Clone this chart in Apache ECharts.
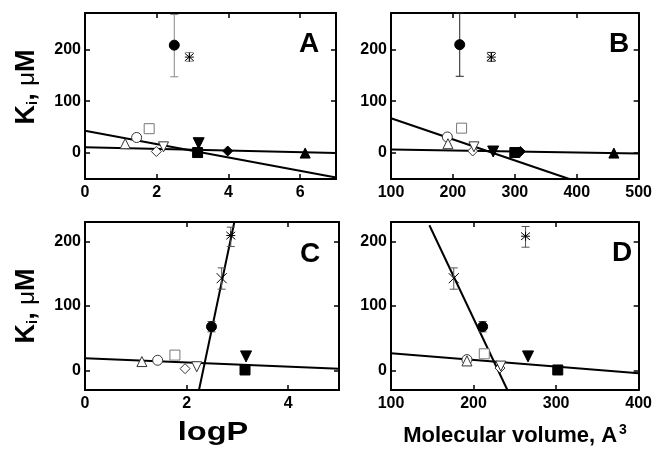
<!DOCTYPE html>
<html>
<head>
<meta charset="utf-8">
<script src="https://cdn.jsdelivr.net/npm/echarts@6/dist/echarts.min.js"></script>
<style>
html,body{margin:0;padding:0;background:#fff;}
#chart{width:655px;height:451px;}
</style>
</head>
<body>
<div id="chart"></div>
<script>
// ---------------- DATA ----------------
const compounds = ['filledCircle','asterisk','cross','openSquare','openCircle','openTriangle','openDiamond','openDownTriangle','filledDownTriangle','filledSquare','filledDiamond','filledTriangle'];

// Panel A: Ki vs logP
const logP_A = [2.49, 2.91, null, 1.79, 1.44, 1.12, 1.99, 2.19, 3.17, 3.14, 3.98, 6.14];
const Ki_A   = [208, 185, null, 47, 30, 18, 3, 12, 19, 1, 4, 0];
const errLo_A = [147, 177, null, null, null, null, null, null, null, null, null, null];
const errHi_A = [267, 194, null, null, null, null, null, null, null, null, null, null];
const fitA1 = [[0, 43], [7, -47]];
const fitA2 = [[0, 11], [7, 0]];

// Panel B: Ki vs molecular volume
const vol_B = [211, 262, null, 214, 191, 192, 232, 234, 265, 300, 309, 460];
const Ki_B  = [209, 185, null, 48, 31, 18, 4, 12, 3, 1, 3, 0];
const errLo_B = [148, 177, null, null, null, null, null, null, null, null, null, null];
const errHi_B = [270, 194, null, null, null, null, null, null, null, null, null, null];
const fitB1 = [[100, 67], [388, -50]];
const fitB2 = [[100, 7], [500, -1]];

// Panel C: Ki vs logP
const logP_C = [2.49, 2.87, 2.69, 1.77, 1.43, 1.12, 1.97, 2.2, 3.17, 3.15, null, null];
const Ki_C   = [68, 209, 143, 24, 16, 14, 3, 6, 22, 1, null, null];
const errLo_C = [60, 192, 126, null, null, null, null, null, null, null, null, null];
const errHi_C = [76, 222, 159, null, null, null, null, null, null, null, null, null];
const fitC1 = [[2.244, -30], [2.94, 230]];
const fitC2 = [[0, 19], [5, 3]];

// Panel D: Ki vs molecular volume
const vol_D = [211, 263, 176, 213, 192, 192, 232, 233, 266, 302, null, null];
const Ki_D  = [68, 208, 143, 26, 17, 15, 4, 7, 22, 1, null, null];
const errLo_D = [60, 191, 126, null, null, null, null, null, null, null, null, null];
const errHi_D = [76, 223, 159, null, null, null, null, null, null, null, null, null];
const fitD1 = [[146.5, 225], [241, -30]];
const fitD2 = [[100, 27], [400, -4]];

// Axis ticks
const ticksLogP_A = [0, 2, 4, 6];
const ticksVol_B = [100, 200, 300, 400, 500];
const ticksLogP_C = [0, 2, 4];
const ticksVol_D = [100, 200, 300, 400];
const ticksKi = [0, 100, 200];

// ---------------- STYLE ----------------
const FONT = '"Liberation Sans", Arial, sans-serif';
const DOWN_TRI = 'path://M0,0L10,0L5,9Z';
const STAR = 'path://M0,0L10,10M10,0L0,10M5,-1L5,11M0,5L10,5';
const CROSS = 'path://M0,0L10,10M10,0L0,10';
const markerStyle = {
  filledCircle:       {symbol:'circle',  size:10, fill:'#000', stroke:'#000'},
  asterisk:           {symbol:STAR,      size:9,  fill:'none', stroke:'#000'},
  cross:              {symbol:CROSS,     size:10, fill:'none', stroke:'#000'},
  openSquare:         {symbol:'rect',    size:10, fill:'#fff', stroke:'#777'},
  openCircle:         {symbol:'circle',  size:10, fill:'#fff', stroke:'#333'},
  openTriangle:       {symbol:'triangle',size:10, fill:'#fff', stroke:'#333'},
  openDiamond:        {symbol:'diamond', size:10, fill:'#fff', stroke:'#333'},
  openDownTriangle:   {symbol:DOWN_TRI,  size:10, fill:'#fff', stroke:'#333'},
  filledDownTriangle: {symbol:DOWN_TRI,  size:11, fill:'#000', stroke:'#000'},
  filledSquare:       {symbol:'rect',    size:10, fill:'#000', stroke:'#000'},
  filledDiamond:      {symbol:'diamond', size:10, fill:'#000', stroke:'#000'},
  filledTriangle:     {symbol:'triangle',size:10, fill:'#000', stroke:'#000'}
};

const panels = [
  {xs:logP_A, ys:Ki_A, lo:errLo_A, hi:errHi_A, fits:[fitA1, fitA2], xMin:0, xMax:7, yMin:-50, yMax:270, xTicks:ticksLogP_A,
   grid:{left:85, top:13, width:251, height:166}, errColor:'#888', letter:'A', letterPos:[309, 44]},
  {xs:vol_B, ys:Ki_B, lo:errLo_B, hi:errHi_B, fits:[fitB1, fitB2], xMin:100, xMax:500, yMin:-50, yMax:270, xTicks:ticksVol_B,
   grid:{left:391, top:13, width:251, height:166}, errColor:'#222', letter:'B', letterPos:[619, 44]},
  {xs:logP_C, ys:Ki_C, lo:errLo_C, hi:errHi_C, fits:[fitC1, fitC2], xMin:0, xMax:5, yMin:-30, yMax:230, xTicks:ticksLogP_C,
   grid:{left:85, top:222, width:254, height:168}, errColor:'#555', letter:'C', letterPos:[310, 254]},
  {xs:vol_D, ys:Ki_D, lo:errLo_D, hi:errHi_D, fits:[fitD1, fitD2], xMin:100, xMax:400, yMin:-30, yMax:230, xTicks:ticksVol_D,
   grid:{left:391, top:222, width:252, height:168}, errColor:'#555', letter:'D', letterPos:[622, 253]}
];

const grids = [], xAxes = [], yAxes = [], series = [], graphics = [];
const lineAxis = {show:true, onZero:false, lineStyle:{color:'#000', width:2}};

panels.forEach((p, g) => {
  grids.push(Object.assign({containLabel:false}, p.grid));
  const tickStyle = {show:true, inside:true, length:5, lineStyle:{color:'#000', width:1.5}};
  const labelStyle = {fontFamily:FONT, fontWeight:'bold', fontSize:16, color:'#000'};
  xAxes.push({type:'value', gridIndex:g, position:'bottom', min:p.xMin, max:p.xMax,
    axisLine:lineAxis, splitLine:{show:false},
    axisTick:Object.assign({customValues:p.xTicks}, tickStyle),
    axisLabel:Object.assign({customValues:p.xTicks, margin:6}, labelStyle)});
  xAxes.push({type:'value', gridIndex:g, position:'top', min:p.xMin, max:p.xMax,
    axisLine:lineAxis, splitLine:{show:false},
    axisTick:Object.assign({customValues:p.xTicks}, tickStyle),
    axisLabel:{show:false}});
  yAxes.push({type:'value', gridIndex:g, position:'left', min:p.yMin, max:p.yMax,
    axisLine:lineAxis, splitLine:{show:false},
    axisTick:Object.assign({customValues:ticksKi}, tickStyle),
    axisLabel:Object.assign({customValues:ticksKi, margin:4}, labelStyle)});
  yAxes.push({type:'value', gridIndex:g, position:'right', min:p.yMin, max:p.yMax,
    axisLine:lineAxis, splitLine:{show:false},
    axisTick:Object.assign({customValues:ticksKi}, tickStyle),
    axisLabel:{show:false}});

  const xi = 2 * g, yi = 2 * g;
  // fitted lines
  p.fits.forEach(f => {
    series.push({type:'line', xAxisIndex:xi, yAxisIndex:yi, data:f, showSymbol:false, symbol:'none',
      lineStyle:{color:'#000', width:2}, clip:true, z:2, silent:true, animation:false});
  });
  // error bars
  const errData = [];
  p.xs.forEach((x, i) => { if (x !== null && p.lo[i] !== null) errData.push([x, p.lo[i], p.hi[i]]); });
  const ec = p.errColor;
  series.push({type:'custom', xAxisIndex:xi, yAxisIndex:yi, data:errData, z:3, animation:false, silent:true,
    renderItem:(params, api) => {
      const x = api.value(0);
      const a = api.coord([x, api.value(1)]);
      const b = api.coord([x, api.value(2)]);
      const w = 4, st = {stroke:ec, lineWidth:1};
      return {type:'group', children:[
        {type:'line', shape:{x1:a[0], y1:a[1], x2:b[0], y2:b[1]}, style:st},
        {type:'line', shape:{x1:a[0]-w, y1:a[1], x2:a[0]+w, y2:a[1]}, style:st},
        {type:'line', shape:{x1:b[0]-w, y1:b[1], x2:b[0]+w, y2:b[1]}, style:st}
      ]};
    }});
  // markers
  compounds.forEach((c, i) => {
    if (p.xs[i] === null) return;
    const m = markerStyle[c];
    series.push({type:'scatter', xAxisIndex:xi, yAxisIndex:yi, data:[[p.xs[i], p.ys[i]]],
      symbol:m.symbol, symbolSize:m.size, z:5, animation:false, silent:true,
      itemStyle:{color:m.fill === 'none' ? 'rgba(0,0,0,0)' : m.fill, borderColor:m.stroke, borderWidth:1, opacity:1}});
  });
  graphics.push({type:'text', x:p.letterPos[0], y:p.letterPos[1],
    style:{text:p.letter, font:'bold 28px ' + FONT, fill:'#000', textAlign:'center', textVerticalAlign:'middle'}});
});

// y-axis titles
[[27, 87], [27, 306]].forEach(pos => {
  graphics.push({type:'text', x:pos[0], y:pos[1], rotation:Math.PI/2,
    style:{text:'{k|K}{s|i}{k|, }{m|μ}{k|M}', textAlign:'center', textVerticalAlign:'middle',
      rich:{
        k:{fontFamily:FONT, fontWeight:'bold', fontSize:27, fill:'#000', lineHeight:30},
        s:{fontFamily:FONT, fontWeight:'bold', fontSize:15, fill:'#000', padding:[12,0,0,0], lineHeight:30},
        m:{fontFamily:FONT, fontWeight:'normal', fontSize:24, fill:'#000', lineHeight:30}
      }}});
});
// x-axis titles
graphics.push({type:'text', x:213, y:433, scaleX:1.3,
  style:{text:'logP', font:'bold 25px ' + FONT, fill:'#000', textAlign:'center', textVerticalAlign:'middle'}});
graphics.push({type:'text', x:515, y:436,
  style:{text:'{t|Molecular volume, A}{p|3}', textAlign:'center', textVerticalAlign:'middle',
    rich:{
      t:{fontFamily:FONT, fontWeight:'bold', fontSize:22, fill:'#000', lineHeight:26},
      p:{fontFamily:FONT, fontWeight:'bold', fontSize:14, fill:'#000', padding:[0,0,12,2], lineHeight:26}
    }}});

const chart = echarts.init(document.getElementById('chart'), null, {renderer:'canvas'});
chart.setOption({
  animation:false,
  backgroundColor:'#fff',
  grid:grids, xAxis:xAxes, yAxis:yAxes, series:series, graphic:graphics
});
</script>
</body>
</html>
